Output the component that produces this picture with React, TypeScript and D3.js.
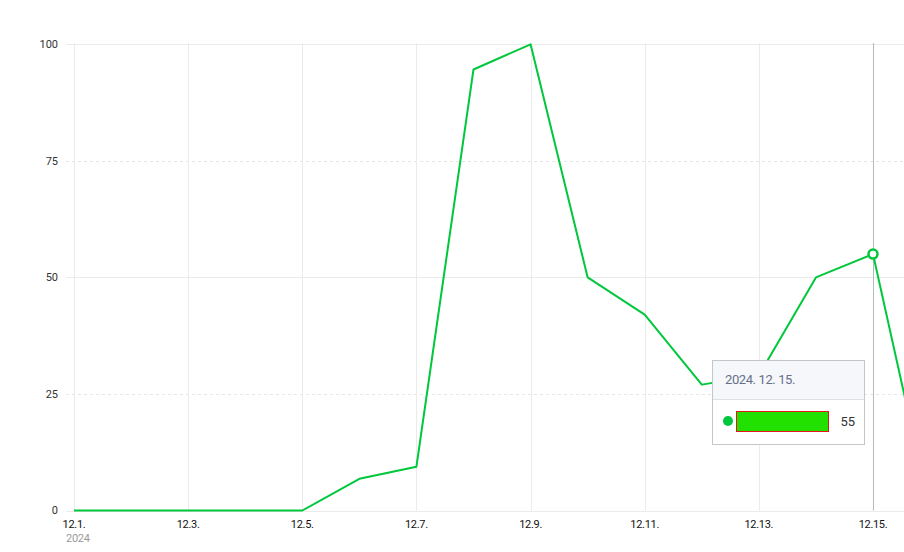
import React from "react";
import * as d3 from "d3";

const dayLabels = ["12.1.", "12.2.", "12.3.", "12.4.", "12.5.", "12.6.", "12.7.", "12.8.", "12.9.", "12.10.", "12.11.", "12.12.", "12.13.", "12.14.", "12.15.", "12.16."];
const values = [0, 0, 0, 0, 0, 6.8, 9.4, 94.6, 100, 50, 42, 27, 29, 50, 55, 0];
const yTicks = [0, 25, 50, 75, 100];
const yearLabel = "2024";
const tooltipTitle = "2024. 12. 15.";
const activeIndex = 14;

const W = 904;
const H = 552;
const FONT = "Roboto, 'Noto Sans CJK KR', sans-serif";
const GREEN = "#00c73c";

export default function App() {
  const x = d3.scaleLinear().domain([0, 14]).range([74, 873]);
  const y = d3.scaleLinear().domain([0, 100]).range([510.5, 44.3]);
  const line = d3
    .line<number>()
    .x((_, i) => x(i))
    .y((d) => y(d));
  const tickIdx = d3.range(0, 15, 2);
  const ax = x(activeIndex);
  const ay = y(values[activeIndex]);

  return (
    <svg
      width={W}
      height={H}
      style={{ position: "absolute", left: 0, top: 0, display: "block", background: "#fff" }}
    >
      {/* horizontal grid */}
      {yTicks.map((t) => (
        <line
          key={"h" + t}
          x1={66}
          x2={W}
          y1={Math.round(y(t)) + 0.5}
          y2={Math.round(y(t)) + 0.5}
          stroke={t % 50 === 0 ? "#ebebeb" : "#e6e6e6"}
          strokeWidth={1}
          strokeDasharray={t % 50 === 0 ? undefined : "3,3"}
        />
      ))}
      {/* vertical grid */}
      {tickIdx.map((i) => (
        <line
          key={"v" + i}
          x1={Math.round(x(i)) + 0.5}
          x2={Math.round(x(i)) + 0.5}
          y1={43}
          y2={y(0)}
          stroke={i === activeIndex ? "#b4b9c0" : "#ebebeb"}
          strokeWidth={1}
        />
      ))}
      {/* y labels */}
      {yTicks.map((t) => (
        <text
          key={"yl" + t}
          x={58}
          y={y(t)}
          dy="0.35em"
          textAnchor="end"
          fontFamily={FONT}
          fontSize={11}
          fill="#333"
        >
          {t}
        </text>
      ))}
      {/* x labels */}
      {tickIdx.map((i) => (
        <text
          key={"xl" + i}
          x={x(i)}
          y={528}
          textAnchor="middle"
          fontFamily={FONT}
          fontSize={11}
          fill="#111"
          letterSpacing={-0.3}
        >
          {dayLabels[i]}
        </text>
      ))}
      <text x={66} y={542} fontFamily={FONT} fontSize={11} fill="#999" letterSpacing={-0.3}>
        {yearLabel}
      </text>
      {/* series */}
      <path d={line(values) || ""} fill="none" stroke={GREEN} strokeWidth={2} strokeLinejoin="round" />
      <circle cx={ax} cy={ay} r={4.5} fill="#fff" stroke={GREEN} strokeWidth={2.5} />
      {/* tooltip */}
      <g>
        <rect x={712.5} y={360.5} width={152} height={84} fill="#fff" stroke="#c3c7cc" strokeWidth={1} />
        <rect x={713} y={361} width={151} height={38} fill="#f5f7fb" />
        <line x1={713} x2={864} y1={399.5} y2={399.5} stroke="#dde0e5" strokeWidth={1} />
        <text x={725} y={384} fontFamily={FONT} fontSize={13} fill="#66708a" letterSpacing={-0.4}>
          {tooltipTitle}
        </text>
        <circle cx={728} cy={421} r={5} fill={GREEN} />
        <rect x={736.5} y={411.5} width={92} height={20} fill="#22e000" stroke="#e8141c" strokeWidth={1} />
        <text x={855} y={421} dy="0.36em" textAnchor="end" fontFamily={FONT} fontSize={13} fill="#333">
          {values[activeIndex]}
        </text>
      </g>
    </svg>
  );
}
